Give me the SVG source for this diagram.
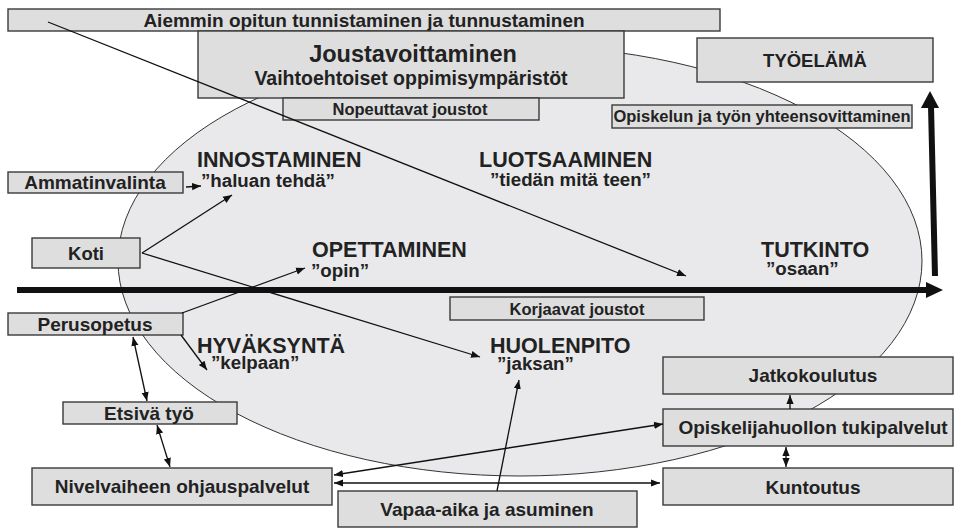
<svg xmlns="http://www.w3.org/2000/svg" width="956" height="528" viewBox="0 0 956 528">
<defs>
<style>
.box{fill:#dededf;stroke:#3a3a3a;stroke-width:1.4}
.t{font-family:"Liberation Sans",Arial,sans-serif;font-weight:bold;fill:#222;text-anchor:middle}
.s16{font-size:16.5px}.s19{font-size:19px}
.big{font-family:"Liberation Sans",Arial,sans-serif;font-weight:bold;fill:#222;font-size:21.5px}
.q{font-family:"Liberation Sans",Arial,sans-serif;font-weight:bold;fill:#222;font-size:18.7px}
.c{fill:none;stroke:#111;stroke-width:1.3}
</style>
<marker id="ah" viewBox="0 0 10 10" refX="10" refY="5" markerWidth="9" markerHeight="9" markerUnits="userSpaceOnUse" orient="auto-start-reverse">
<path d="M0,1 L10,5 L0,9 Z" fill="#111"/>
</marker>
</defs>
<rect width="956" height="528" fill="#fff"/>
<ellipse id="oval" cx="520" cy="261" rx="402" ry="215" fill="#e9e9eb" stroke="#333" stroke-width="1"/>
<g id="mainAxis">
<line x1="17" y1="290" x2="928" y2="290" stroke="#111" stroke-width="6"/>
<polygon points="926,282 943,290 926,298" fill="#111"/>
<line x1="935" y1="276" x2="931" y2="106" stroke="#111" stroke-width="6"/>
<polygon points="921,108 930,91 939,108" fill="#111"/>
</g>
<g id="aiemmin"><rect class="box" x="8" y="9" width="712" height="22"/><text class="t s19" x="364" y="27">Aiemmin opitun tunnistaminen ja tunnustaminen</text></g>
<g id="joustavoittaminen"><rect class="box" x="198" y="31" width="426" height="67"/><text class="t" style="font-size:23.5px" x="413" y="62">Joustavoittaminen</text><text class="t" style="font-size:19.5px" x="411" y="85">Vaihtoehtoiset oppimisympäristöt</text></g>
<g id="nopeuttavat"><rect class="box" x="283" y="98" width="256" height="22"/><text class="t s16" x="410" y="115">Nopeuttavat joustot</text></g>
<g id="tyoelama"><rect class="box" x="697" y="38" width="236" height="44"/><text class="t" style="font-size:18.5px" x="815" y="67">TYÖELÄMÄ</text></g>
<g id="opiskelun"><rect class="box" x="612" y="105" width="300" height="23"/><text class="t s16" x="762" y="122">Opiskelun ja työn yhteensovittaminen</text></g>
<g id="ammatinvalinta"><rect class="box" x="8" y="172" width="175" height="21"/><text class="t s19" x="95" y="189">Ammatinvalinta</text></g>
<g id="koti"><rect class="box" x="32" y="238" width="108" height="30"/><text class="t" style="font-size:18.5px" x="86" y="260">Koti</text></g>
<g id="perusopetus"><rect class="box" x="8" y="313" width="175" height="22"/><text class="t s19" x="95" y="331">Perusopetus</text></g>
<g id="etsiva"><rect class="box" x="63" y="402" width="174" height="22"/><text class="t s19" x="149" y="420">Etsivä työ</text></g>
<g id="nivelvaihe"><rect class="box" x="32" y="468" width="300" height="37"/><text class="t s19" x="182" y="493">Nivelvaiheen ohjauspalvelut</text></g>
<g id="vapaa-aika"><rect class="box" x="338" y="491" width="299" height="36"/><text class="t s19" x="487" y="516">Vapaa-aika ja asuminen</text></g>
<g id="korjaavat"><rect class="box" x="450" y="297" width="254" height="23"/><text class="t s16" x="577" y="315">Korjaavat joustot</text></g>
<g id="jatkokoulutus"><rect class="box" x="663" y="357" width="290" height="37"/><text class="t s19" x="813" y="382">Jatkokoulutus</text></g>
<g id="opiskelijahuolto"><rect class="box" x="663" y="409" width="290" height="37"/><text class="t s19" x="813" y="434">Opiskelijahuollon tukipalvelut</text></g>
<g id="kuntoutus"><rect class="box" x="663" y="468" width="290" height="37"/><text class="t s19" x="813" y="494">Kuntoutus</text></g>
<g id="innostaminen"><text class="big" x="197" y="167">INNOSTAMINEN</text><text class="q" x="201" y="187">”haluan tehdä”</text></g>
<g id="luotsaaminen"><text class="big" x="479" y="167">LUOTSAAMINEN</text><text class="q" x="490" y="186">”tiedän mitä teen”</text></g>
<g id="opettaminen"><text class="big" x="312" y="257">OPETTAMINEN</text><text class="q" x="311" y="277">”opin”</text></g>
<g id="tutkinto"><text class="big" x="761" y="257">TUTKINTO</text><text class="q" x="766" y="275">”osaan”</text></g>
<g id="hyvaksynta"><text class="big" x="197" y="353">HYVÄKSYNTÄ</text><text class="q" x="211" y="369">”kelpaan”</text></g>
<g id="huolenpito"><text class="big" x="490" y="353">HUOLENPITO</text><text class="q" x="497" y="370">”jaksan”</text></g>
<g id="connectors">
<line class="c" x1="48" y1="22" x2="686" y2="276" marker-end="url(#ah)"/>
<line class="c" x1="186" y1="187" x2="201" y2="186" marker-end="url(#ah)"/>
<line class="c" x1="142" y1="253" x2="232" y2="195" marker-end="url(#ah)"/>
<line class="c" x1="142" y1="253" x2="480" y2="357" marker-end="url(#ah)"/>
<line class="c" x1="182" y1="313" x2="305" y2="268" marker-end="url(#ah)"/>
<line class="c" x1="181" y1="335" x2="207" y2="370" marker-end="url(#ah)"/>
<line class="c" x1="133" y1="337" x2="147" y2="401" marker-start="url(#ah)" marker-end="url(#ah)"/>
<line class="c" x1="157" y1="425" x2="170" y2="467" marker-start="url(#ah)" marker-end="url(#ah)"/>
<line class="c" x1="334" y1="475" x2="663" y2="424" marker-start="url(#ah)" marker-end="url(#ah)"/>
<line class="c" x1="334" y1="483" x2="660" y2="483" marker-start="url(#ah)" marker-end="url(#ah)"/>
<line class="c" x1="497" y1="491" x2="519" y2="380" marker-end="url(#ah)"/>
<line class="c" x1="790" y1="409" x2="790" y2="395" marker-end="url(#ah)"/>
<line class="c" x1="786" y1="447" x2="786" y2="467" marker-start="url(#ah)" marker-end="url(#ah)"/>
</g>
</svg>
